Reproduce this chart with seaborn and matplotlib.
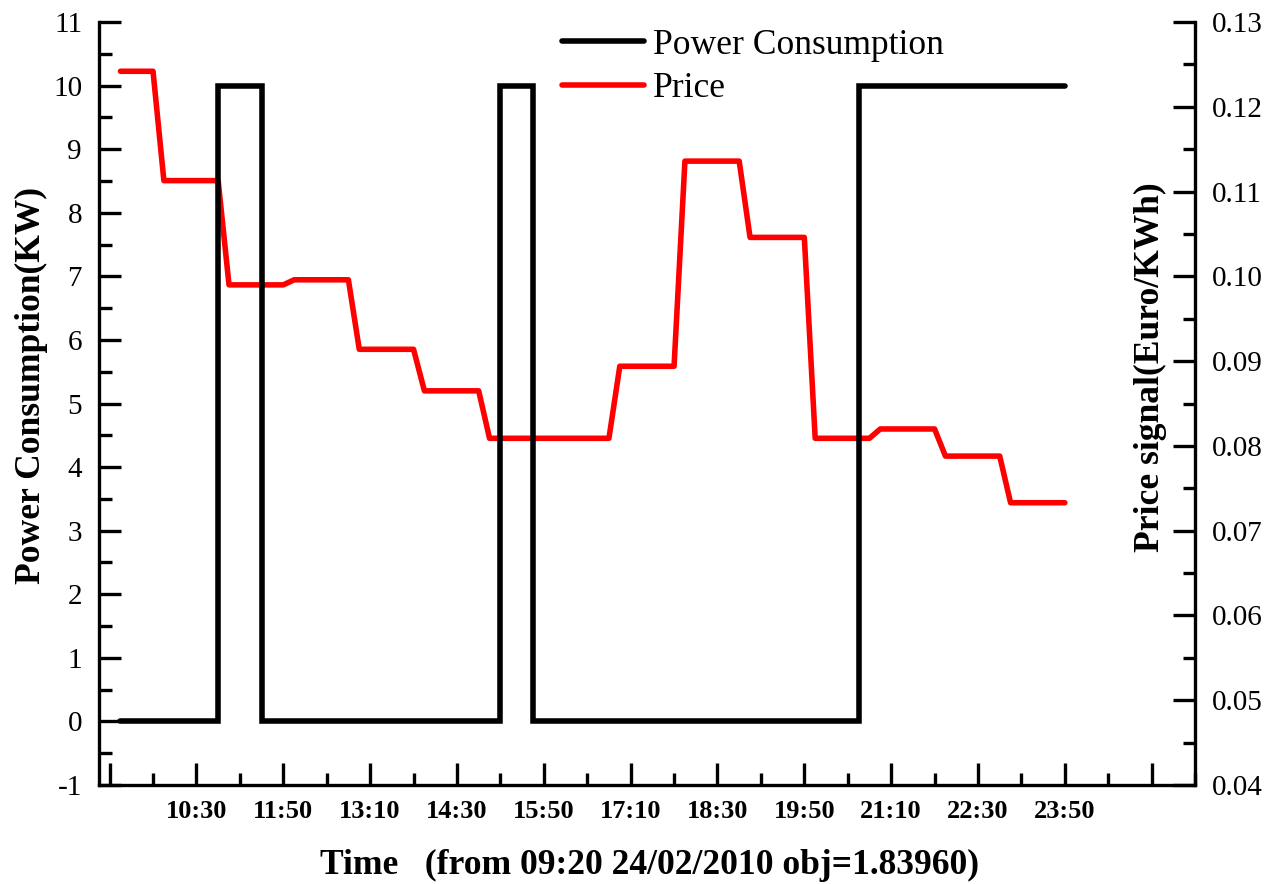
import numpy as np
import pandas as pd
import seaborn as sns
import matplotlib.pyplot as plt
from matplotlib.ticker import FixedLocator, MultipleLocator, FormatStrFormatter

# hourly price signal (Euro/KWh), applied to every 10 min slot of that hour
price_hours = [9, 10, 11, 12, 13, 14, 15, 16, 17, 18, 19, 20, 21, 22, 23]
price_values = [0.1242, 0.1113, 0.0990, 0.0996, 0.0914, 0.0865, 0.0809, 0.0809,
                0.0894, 0.1136, 0.1046, 0.0809, 0.0820, 0.0788, 0.0733]

# power switching instants (KW), drawn as steps
power_times = ['09:20', '10:50', '11:30', '15:10', '15:40', '20:40', '23:50']
power_kw = [0, 10, 0, 10, 0, 10, 10]

# x ticks (first and last are unlabelled)
tick_times = ['09:10', '10:30', '11:50', '13:10', '14:30', '15:50', '17:10',
              '18:30', '19:50', '21:10', '22:30', '23:50', '25:10']
tick_labels = [''] + tick_times[1:-1] + ['']


def to_min(s):
    h, m = s.split(':')
    return int(h) * 60 + int(m)


slots = pd.date_range('2010-02-24 09:20', '2010-02-24 23:50', freq='10min')
price_df = pd.DataFrame({'t': slots.hour * 60 + slots.minute, 'hour': slots.hour})
price_df['price'] = price_df['hour'].map(dict(zip(price_hours, price_values)))

power_df = pd.DataFrame({'t': [to_min(s) for s in power_times], 'kw': power_kw})

sns.set_style('ticks')
plt.rcParams['font.family'] = ['Liberation Serif', 'DejaVu Serif']
plt.rcParams.update({'axes.unicode_minus': False, 'axes.edgecolor': 'black',
                     'xtick.color': 'black', 'ytick.color': 'black',
                     'text.color': 'black', 'axes.labelcolor': 'black'})

fig = plt.figure(figsize=(12.66, 8.84), dpi=100)
ax = fig.add_axes([0.078, 0.112, 0.866, 0.863])
ax2 = ax.twinx()

sns.lineplot(data=power_df, x='t', y='kw', ax=ax, color='black', lw=4,
             drawstyle='steps-post', label='Power Consumption', legend=False,
             solid_capstyle='round', solid_joinstyle='miter')
sns.lineplot(data=price_df, x='t', y='price', ax=ax2, color='#ff0000', lw=4,
             label='Price', legend=False, solid_capstyle='round')

# black line over the red one
ax.set_zorder(ax2.get_zorder() + 1)
ax.patch.set_visible(False)

ax.set_xlim(540, 1550)
ax.set_ylim(-1, 11)
ax2.set_ylim(0.04, 0.13)

ax.xaxis.set_major_locator(FixedLocator([to_min(s) for s in tick_times]))
ax.set_xticklabels(tick_labels)
ax.xaxis.set_minor_locator(FixedLocator([to_min(s) + 40 for s in tick_times]))
ax.yaxis.set_major_locator(MultipleLocator(1))
ax.yaxis.set_minor_locator(MultipleLocator(0.5))
ax2.yaxis.set_major_locator(MultipleLocator(0.01))
ax2.yaxis.set_minor_locator(MultipleLocator(0.005))
ax2.yaxis.set_major_formatter(FormatStrFormatter('%.2f'))

for a in (ax, ax2):
    a.tick_params(which='major', direction='in', length=16, width=2.4)
    a.tick_params(which='minor', direction='in', length=9, width=2.4)
    for sp in a.spines.values():
        sp.set_linewidth(2.4)
    a.spines['top'].set_visible(False)
ax.spines['right'].set_visible(False)
ax2.spines['left'].set_visible(False)
ax2.spines['bottom'].set_visible(False)

ax.tick_params(axis='y', labelsize=21, pad=12)
ax2.tick_params(axis='y', labelsize=21, pad=12)
ax.tick_params(axis='x', labelsize=19, pad=11)
for lab in ax.get_xticklabels():
    lab.set_fontweight('bold')

ax.set_xlabel('Time   (from 09:20 24/02/2010 obj=1.83960)', fontsize=25.6, fontweight='bold')
ax.xaxis.set_label_coords(0.502, -0.084)
ax.set_ylabel('Power Consumption(KW)', fontsize=25.6, fontweight='bold')
ax.yaxis.set_label_coords(-0.046, 0.524)
ax2.set_ylabel('Price signal(Euro/KWh)', fontsize=25.6, fontweight='bold', rotation=90)
ax2.yaxis.set_label_coords(0.944, 0.548)

h1, l1 = ax.get_legend_handles_labels()
h2, l2 = ax2.get_legend_handles_labels()
ax.legend(h1 + h2, l1 + l2, loc='upper left', bbox_to_anchor=(0.41, 1.010),
          frameon=False, fontsize=25.6, handlelength=2.3, handletextpad=0.25,
          labelspacing=0.29, borderaxespad=0)

fig.savefig('out.png', dpi=100)
